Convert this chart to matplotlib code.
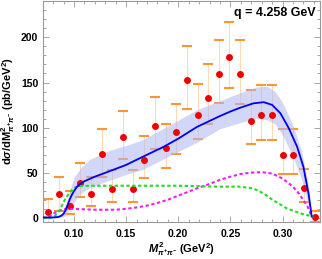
import numpy as np
import matplotlib
matplotlib.use("Agg")
import matplotlib.pyplot as plt
from matplotlib.ticker import MultipleLocator

plt.rcParams['font.family'] = ['Liberation Sans', 'DejaVu Sans']
plt.rcParams['font.weight'] = 'bold'
plt.rcParams['mathtext.fontset'] = 'custom'
plt.rcParams['mathtext.rm'] = 'Liberation Sans:bold'
plt.rcParams['mathtext.it'] = 'Liberation Sans:italic:bold'
plt.rcParams['mathtext.bf'] = 'Liberation Sans:bold'

# data points
x_pts = [0.0751, 0.0853, 0.0959, 0.1060, 0.1166, 0.1266, 0.1367, 0.1470, 0.1566,
         0.1674, 0.1780, 0.1880, 0.1981, 0.2084, 0.2187, 0.2288, 0.2391, 0.2490,
         0.2592, 0.2695, 0.2797, 0.2902, 0.3005, 0.3104, 0.3209, 0.3312]
y_pts = [7.3, 26.9, 14.0, 39.4, 26.9, 71.1, 32.4, 89.6, 32.4,
         64.2, 102.0, 77.4, 95.8, 152.7, 114.6, 133.4, 159.3, 177.7,
         158.9, 108.0, 114.3, 114.6, 70.4, 70.4, 33.2, 1.8]
y_hi = [21.7, 46.0, 30.2, 61.5, 46.0, 98.5, 53.4, 119.0, 53.4,
        91.4, 134.0, 104.6, 126.8, 189.8, 148.2, 170.0, 196.5, 216.3,
        196.5, 141.6, 147.5, 147.5, 98.4, 98.4, 54.2, 8.0]
y_lo = [-7.0, 8.0, 4.8, 23.2, 13.6, 46.0, 18.4, 65.6, 18.4,
        44.2, 77.0, 55.3, 70.8, 121.2, 87.4, 104.3, 127.2, 143.8,
        126.4, 81.9, 87.0, 87.0, 49.0, 49.0, 18.4, -4.0]

# central curve
x_c = [0.0703, 0.080, 0.085, 0.088, 0.090, 0.092, 0.094, 0.096, 0.098, 0.100, 0.103,
       0.106, 0.110, 0.120, 0.134, 0.150, 0.166, 0.186, 0.200, 0.218, 0.240, 0.250,
       0.259, 0.272, 0.282, 0.290, 0.298, 0.306, 0.314, 0.320, 0.325, 0.328]
y_c = [1.0, 1.0, 1.5, 3.0, 5.0, 9.0, 15.0, 21.0, 26.0, 30.0, 35.0,
       38.0, 41.0, 46.0, 52.0, 59.0, 68.0, 79.0, 88.0, 101.0, 113.0, 118.0,
       122.0, 127.0, 128.3, 125.3, 116.0, 99.6, 79.0, 57.0, 27.0, 2.0]

# uncertainty band
x_b = [0.080, 0.088, 0.092, 0.096, 0.100, 0.106, 0.115, 0.134, 0.154, 0.166, 0.190,
       0.218, 0.240, 0.260, 0.275, 0.285, 0.293, 0.300, 0.310, 0.318, 0.324, 0.328]
y_bhi = [1.0, 5.0, 15.0, 30.0, 45.0, 55.0, 65.0, 75.0, 82.0, 87.0, 102.0,
         120.0, 130.0, 139.0, 145.0, 146.0, 140.0, 128.0, 103.0, 75.0, 42.0, 3.0]
y_blo = [0.0, 1.0, 3.0, 10.0, 18.0, 27.0, 34.0, 42.0, 50.0, 54.0, 68.0,
         84.0, 99.0, 106.0, 110.0, 109.0, 104.0, 92.0, 68.0, 44.0, 18.0, 1.0]

# green dotted curve
x_g = [0.0703, 0.078, 0.082, 0.0863, 0.091, 0.096, 0.1007, 0.106, 0.120, 0.154,
       0.200, 0.240, 0.259, 0.272, 0.2816, 0.291, 0.304, 0.317, 0.3296]
y_g = [0.3, 0.5, 3.0, 9.0, 20.0, 29.0, 34.0, 35.7, 36.0, 36.0,
       36.0, 35.0, 35.0, 33.0, 27.7, 20.0, 11.0, 5.5, 1.8]

# magenta dashed curve
x_m = [0.0703, 0.075, 0.080, 0.085, 0.090, 0.100, 0.120, 0.140, 0.150, 0.160, 0.170,
       0.180, 0.190, 0.200, 0.210, 0.220, 0.230, 0.240, 0.250, 0.260, 0.270, 0.280,
       0.290, 0.300, 0.310, 0.316, 0.320, 0.324, 0.328]
y_m = [0.5, 1.0, 5.0, 8.0, 10.0, 10.5, 9.5, 9.5, 10.5, 12.0, 14.0,
       17.0, 20.5, 25.0, 29.5, 34.0, 38.0, 42.5, 46.0, 49.0, 50.5, 51.0,
       49.5, 44.0, 35.0, 27.0, 20.0, 13.0, 2.0]

fig = plt.figure(figsize=(3.22, 2.59), dpi=100)
ax = fig.add_axes([0.1335, 0.143, 0.8605, 0.853])

xp = np.array(x_pts); yp = np.array(y_pts)
hi = np.array(y_hi); lo = np.array(y_lo)
ax.vlines(xp, lo, hi, color='#FFD8B4', lw=0.8, zorder=1)
ax.plot(xp, hi, ls='none', marker='_', ms=7, mew=1.5, color='#FF9530', zorder=1)
ax.plot(xp, lo, ls='none', marker='_', ms=7, mew=1.5, color='#FF9530', zorder=1)

ax.fill_between(x_b, y_blo, y_bhi, color='#B0B7F2', alpha=0.55, lw=0, zorder=2)
ax.plot(xp, yp, ls='none', marker='o', ms=5, color='#EE0000', mec='none', zorder=3)
ax.plot(x_m, y_m, color='#EE22EE', lw=1.5, ls=(0, (1.6, 1.2)), zorder=4)
ax.plot(x_g, y_g, color='#22DD22', lw=1.5, ls=(0, (1.6, 1.2)), zorder=4)
ax.plot(x_c, y_c, color='#0000EE', lw=1.3, zorder=5)

ax.set_xlim(0.0703, 0.336)
ax.set_ylim(-4, 240)
ax.xaxis.set_major_locator(MultipleLocator(0.05))
ax.xaxis.set_minor_locator(MultipleLocator(0.01))
ax.yaxis.set_major_locator(MultipleLocator(50))
ax.yaxis.set_minor_locator(MultipleLocator(10))
ax.xaxis.set_major_formatter(matplotlib.ticker.FuncFormatter(lambda v, p: f"{v:.2f}"))
for s in ax.spines.values():
    s.set_color('#999999')
    s.set_linewidth(0.8)
ax.tick_params(which='both', direction='in', top=True, right=True, colors='#999999',
               labelcolor='black', labelsize=7.5, width=0.6)
ax.tick_params(which='major', length=4)
ax.tick_params(which='minor', length=2)
ax.tick_params(axis='x', which='major', pad=5)
for lab in ax.get_xticklabels() + ax.get_yticklabels():
    lab.set_fontweight('bold')

ax.set_xlabel(r"$M^{2}_{\pi^{+}\pi^{-}}$ (GeV$^{2}$)", fontsize=8, fontweight='bold', labelpad=1)
ax.set_ylabel(r"d$\sigma$/d$\mathrm{M}^{2}_{\pi^{+}\pi^{-}}$ (pb/GeV$^{2}$)", fontsize=8,
              fontweight='bold', labelpad=3)
ax.text(0.985, 0.975, "q = 4.258 GeV", transform=ax.transAxes, ha='right', va='top',
        fontsize=9, fontweight='bold')

fig.savefig("out.png", dpi=100)
